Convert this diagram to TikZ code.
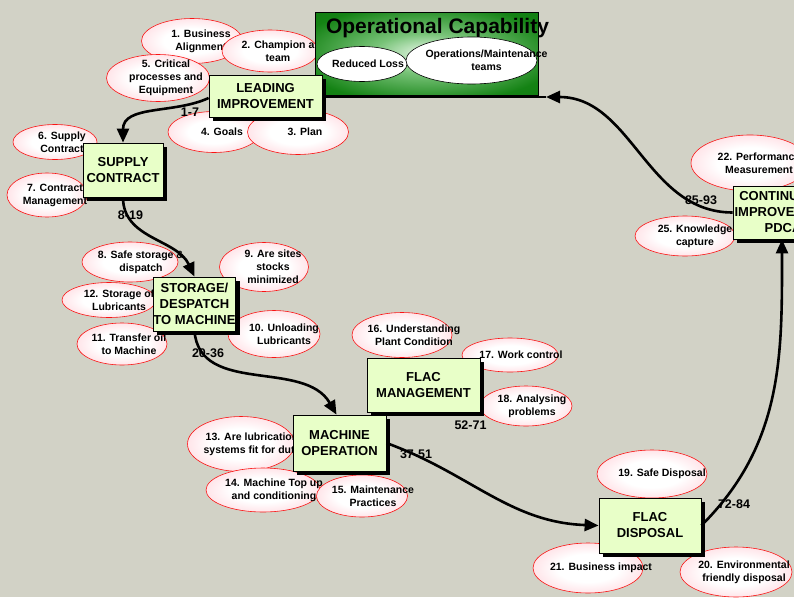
\documentclass[tikz,border=0pt]{standalone}
\usepackage{fontspec}
\setmainfont{Liberation Sans}
\usetikzlibrary{shapes.geometric,arrows.meta,shadows}

\definecolor{canvas}{RGB}{210,210,198}
\definecolor{stagegreen}{RGB}{232,255,200}
\definecolor{bubpink}{RGB}{255,172,186}
\definecolor{bubred}{RGB}{250,20,20}
\definecolor{titlegreen}{RGB}{20,130,20}
\definecolor{titlemid}{RGB}{120,195,120}
\definecolor{titledark}{RGB}{0,100,0}
\definecolor{titlelight}{RGB}{236,250,236}

\pgfdeclareradialshading{bubglow}{\pgfpoint{0bp}{0bp}}{color(0bp)=(white); color(14bp)=(white); color(49bp)=(bubpink); color(50bp)=(bubpink)}
\pgfdeclareradialshading{titleglow}{\pgfpoint{0bp}{0bp}}{color(0bp)=(titlelight); color(12bp)=(titlemid); color(30bp)=(titlegreen); color(71bp)=(titledark)}

\tikzset{
	stage/.style={rectangle, draw=black, line width=0.8pt, fill=stagegreen, inner sep=0pt, align=center,
		font=\fontsize{13}{16}\selectfont\bfseries,
		drop shadow={fill=black, opacity=1, shadow xshift=4pt, shadow yshift=-4pt}},
	bubble/.style={ellipse, draw=bubred, line width=0.6pt, shade, shading=bubglow, inner sep=0pt},
	bubtext/.style={align=center, inner sep=0pt, font=\fontsize{10.5}{13}\selectfont\bfseries},
	goal/.style={ellipse, draw=black, line width=0.6pt, fill=white, inner sep=0pt},
	flow/.style={line width=2.6pt, -{Triangle[length=14pt,width=12pt]}},
	steprange/.style={font=\fontsize{12.5}{14}\selectfont\bfseries},
}

\begin{document}
\begin{tikzpicture}[x=1pt, y=1pt]
	\useasboundingbox (0,0) rectangle (794,-597);
	\fill[canvas] (0,0) rectangle (794,-597);
	\clip (0,0) rectangle (794,-597);

	% Bubbles round the stages:
	\node[bubble, minimum width=101, minimum height=45, label={[bubtext, xshift=9pt]center:{1. Business\\Alignment}}] (b1) at (192,-41) {};
	\node[bubble, minimum width=96, minimum height=42, label={[bubtext, xshift=8pt]center:{2. Champion a\\team}}] (b2) at (270,-51) {};
	\node[bubble, minimum width=103, minimum height=47, label={[bubtext, xshift=8pt]center:{5. Critical\\processes and\\Equipment}}] (b5) at (158,-78) {};
	\node[bubble, minimum width=92, minimum height=41, label={[bubtext, xshift=8pt]center:{4. Goals}}] (b4) at (214,-132) {};
	\node[bubble, minimum width=101, minimum height=45, label={[bubtext, xshift=7pt]center:{3. Plan}}] (b3) at (298,-132) {};
	\node[bubble, minimum width=84, minimum height=35, label={[bubtext, xshift=7pt]center:{6. Supply\\Contract}}] (b6) at (55,-142) {};
	\node[bubble, minimum width=80, minimum height=44, label={[bubtext, xshift=8pt]center:{7. Contract\\Management}}] (b7) at (47,-195) {};
	\node[bubble, minimum width=96, minimum height=40, label={[bubtext, xshift=11pt]center:{8. Safe storage \&\\dispatch}}] (b8) at (130,-262) {};
	\node[bubble, minimum width=89, minimum height=49, label={[bubtext, xshift=9pt]center:{9. Are sites\\stocks\\minimized}}] (b9) at (264,-267) {};
	\node[bubble, minimum width=94, minimum height=35, label={[bubtext, xshift=10pt]center:{12. Storage of\\Lubricants}}] (b12) at (109,-300) {};
	\node[bubble, minimum width=90, minimum height=42, label={[bubtext, xshift=7pt]center:{11. Transfer oil\\to Machine}}] (b11) at (122,-344) {};
	\node[bubble, minimum width=92, minimum height=47, label={[bubtext, xshift=10pt]center:{10. Unloading\\Lubricants}}] (b10) at (274,-334) {};
	\node[bubble, minimum width=100, minimum height=45, label={[bubtext, xshift=12pt]center:{16. Understanding\\Plant Condition}}] (b16) at (402,-335) {};
	\node[bubble, minimum width=96, minimum height=34, label={[bubtext, xshift=11pt]center:{17. Work control}}] (b17) at (510,-355) {};
	\node[bubble, minimum width=92, minimum height=40, label={[bubtext, xshift=6pt]center:{18. Analysing\\problems}}] (b18) at (526,-406) {};
	\node[bubble, minimum width=107, minimum height=55, label={[bubtext, xshift=11pt]center:{13. Are lubrication\\systems fit for duty}}] (b13) at (241,-444) {};
	\node[bubble, minimum width=114, minimum height=44, label={[bubtext, xshift=11pt]center:{14. Machine Top up\\and conditioning}}] (b14) at (263,-490) {};
	\node[bubble, minimum width=91, minimum height=42, label={[bubtext, xshift=11pt]center:{15. Maintenance\\Practices}}] (b15) at (362,-496) {};
	\node[bubble, minimum width=110, minimum height=48, label={[bubtext, xshift=10pt]center:{19. Safe Disposal}}] (b19) at (652,-474) {};
	\node[bubble, minimum width=110, minimum height=50, label={[bubtext, xshift=13pt]center:{21. Business impact}}] (b21) at (588,-568) {};
	\node[bubble, minimum width=112, minimum height=50, label={[bubtext, xshift=8pt]center:{20. Environmental\\friendly disposal}}] (b20) at (736,-572) {};
	\node[bubble, minimum width=118, minimum height=56, label={[bubtext, xshift=9pt]center:{22. Performance\\Measurement}}] (b22) at (750,-163) {};
	\node[bubble, minimum width=100, minimum height=40, label={[bubtext, xshift=10pt]center:{25. Knowledge\\capture}}] (b25) at (685,-236) {};

	% Heading box:
	\node[rectangle, draw=black, line width=0.8pt, shade, shading=titleglow, minimum width=223, minimum height=83] (title) at (426.5,-53.5) {};
	\node[font=\fontsize{21}{24}\selectfont\bfseries, anchor=base] (titletext) at (437.5,-33) {Operational Capability};
	\node[goal, minimum width=90, minimum height=35, label={[bubtext, xshift=6pt]center:{Reduced Loss}}] (loss) at (362,-64) {};
	\node[goal, minimum width=131, minimum height=47, label={[bubtext, xshift=15pt]center:{Operations/Maintenance\\teams}}] (teams) at (471.5,-60.5) {};

	% Stages:
	\node[stage, minimum width=113, minimum height=42] (lead) at (265.5,-96) {LEADING\\IMPROVEMENT};
	\node[stage, minimum width=80, minimum height=54] (supply) at (123,-170) {SUPPLY\\CONTRACT};
	\node[stage, minimum width=81, minimum height=54] (storage) at (194.5,-304) {STORAGE/\\DESPATCH\\TO MACHINE};
	\node[stage, minimum width=113, minimum height=54] (flacman) at (423.5,-385) {FLAC\\MANAGEMENT};
	\node[stage, minimum width=93, minimum height=56] (machine) at (339.5,-443) {MACHINE\\OPERATION};
	\node[stage, minimum width=102, minimum height=55] (disposal) at (650,-525.5) {FLAC\\DISPOSAL};
	\node[stage, minimum width=100, minimum height=53] (contimp) at (783,-212.5) {CONTINUOUS\\IMPROVEMENT\\PDCA};

	% Flow between stages:
	\coordinate (back) at (546,-97);
	\draw[flow] ([yshift=-2pt]lead.west) to[out=205, in=90] (supply.north);
	\draw[flow] (supply.south) to[out=-90, in=115] (storage.north);
	\draw[flow] (storage.south) to[out=-85, in=120] ([xshift=-3pt]machine.north);
	\draw[flow] (machine.east) to[out=-20, in=178] (disposal.west);
	\draw[flow] (disposal.east) to[out=45, in=-90] ([xshift=-1pt]contimp.south);
	\draw[flow] (contimp.west) to[out=180, in=0] (back);
	\draw[line width=2.6pt] (lead.east |- back) -- (back);

	% Step ranges:
	\node[steprange] (r1) at (190,-112) {1-7};
	\node[steprange] (r2) at (130.5,-215) {8-19};
	\node[steprange] (r3) at (208,-353) {20-36};
	\node[steprange] (r4) at (416,-454) {37-51};
	\node[steprange] (r5) at (470.5,-425) {52-71};
	\node[steprange] (r6) at (734,-504) {72-84};
	\node[steprange] (r7) at (701,-200) {85-93};
\end{tikzpicture}
\end{document}
